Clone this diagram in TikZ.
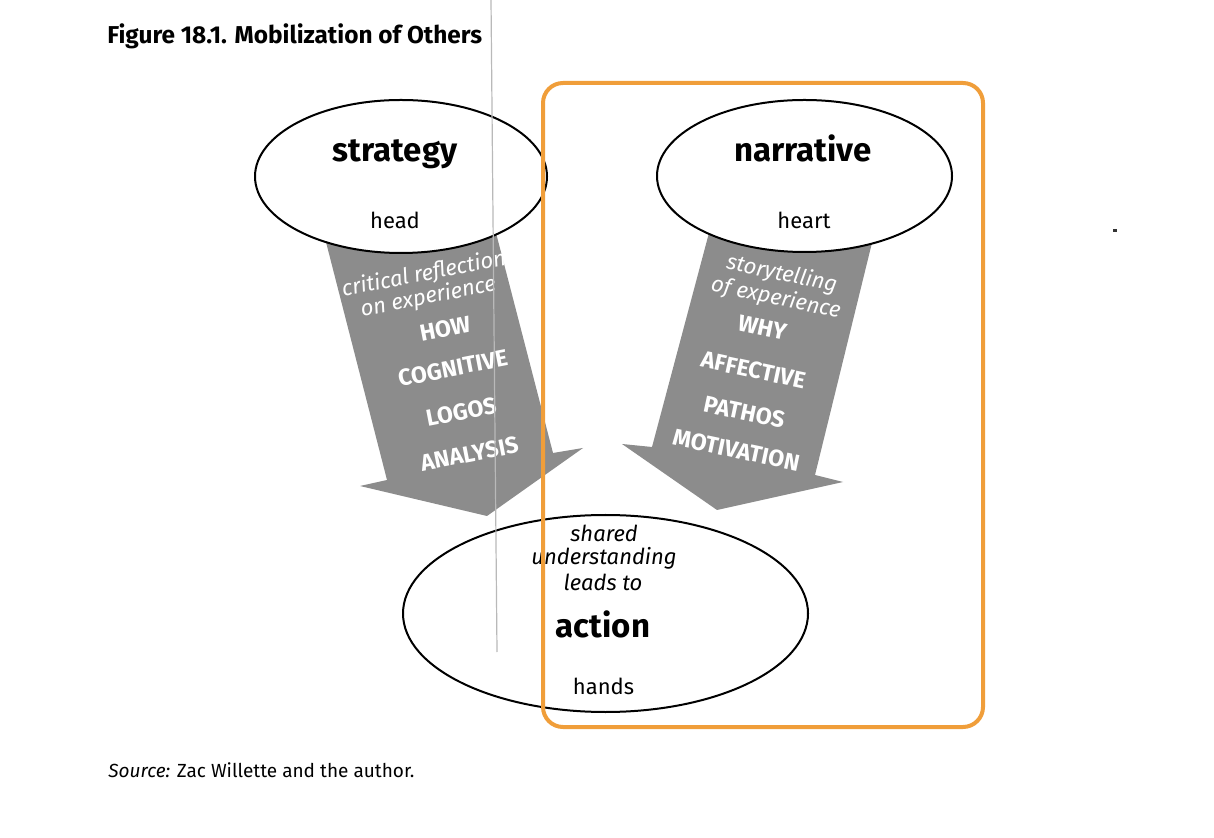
\documentclass[tikz,border=0pt]{standalone}
\usepackage{fontspec}
\setmainfont{Fira Sans}
\usetikzlibrary{shapes.geometric}
\definecolor{arrowgray}{RGB}{140,140,140}
\definecolor{hlorange}{RGB}{240,158,58}
\definecolor{scanline}{RGB}{185,185,185}
\newcommand\rowstrut[1]{\vrule height #1 depth 3pt width 0pt}
\newcommand\arrowit{\itshape\fontsize{11}{12}\selectfont}
\newcommand\arrowcap{\bfseries\fontsize{11.6}{13}\selectfont}
\begin{document}
\begin{tikzpicture}[x=0.5pt,y=-0.5pt,
  oval/.style={draw=black, line width=1pt, fill=white, ellipse, inner sep=0pt},
  bigword/.style={font=\bfseries\fontsize{16.5}{19}\selectfont, anchor=base},
  smallword/.style={font=\fontsize{11}{13}\selectfont, anchor=base},
  itblack/.style={font=\itshape\fontsize{11}{13}\selectfont, anchor=base},
  arrowtext/.style={text=white, inner sep=0pt, anchor=base},
  arrowfill/.style={fill=arrowgray},
]
\useasboundingbox (0,0) rectangle (1214,838);

% title and source
\node[font=\bfseries\fontsize{12.2}{14}\selectfont, anchor=base west, inner sep=0pt] (title) at (107,44) {Figure 18.1. Mobilization of Others};
\node[font=\fontsize{9.5}{11}\selectfont, anchor=base west, inner sep=0pt] (source) at (108,777) {\textit{Source:} Zac Willette and the author.};

% left arrow
\coordinate (LA1) at (317,207);
\coordinate (LA2) at (387,480);
\coordinate (LA3) at (360,486);
\coordinate (LA4) at (487,516);
\coordinate (LA5) at (583,448);
\coordinate (LA6) at (553,453);
\coordinate (LA7) at (488,202);
\fill[arrowfill] (LA1) -- (LA2) -- (LA3) -- (LA4) -- (LA5) -- (LA6) -- (LA7) -- cycle;
\begin{scope}
  \clip (LA1) -- (LA2) -- (LA3) -- (LA4) -- (LA5) -- (LA6) -- (LA7) -- cycle;
  \node[arrowtext, rotate=11] (leftlabel) at (425.1,280.7) {\vtop{\offinterlineskip\halign{\hfil#\hfil\cr
    \rowstrut{8pt}\arrowit critical reflection\cr
    \rowstrut{8pt}\arrowit on experience\cr
    \rowstrut{14.8pt}\hspace*{10.5pt}\arrowcap HOW\cr
    \rowstrut{17.2pt}\hspace*{10.5pt}\arrowcap COGNITIVE\cr
    \rowstrut{19.2pt}\hspace*{10.5pt}\arrowcap LOGOS\cr
    \rowstrut{18.5pt}\hspace*{10.5pt}\arrowcap ANALYSIS\cr}}};
\end{scope}

% right arrow
\coordinate (RA1) at (718,199);
\coordinate (RA2) at (652,447);
\coordinate (RA3) at (622,444);
\coordinate (RA4) at (717,510);
\coordinate (RA5) at (843,482);
\coordinate (RA6) at (815,475);
\coordinate (RA7) at (881,206);
\fill[arrowfill] (RA1) -- (RA2) -- (RA3) -- (RA4) -- (RA5) -- (RA6) -- (RA7) -- cycle;
\begin{scope}
  \clip (RA1) -- (RA2) -- (RA3) -- (RA4) -- (RA5) -- (RA6) -- (RA7) -- cycle;
  \node[arrowtext, rotate=-12] (rightlabel) at (772.7,278.8) {\vtop{\offinterlineskip\halign{\hfil#\hfil\cr
    \rowstrut{8pt}\hspace*{8pt}\arrowit storytelling\cr
    \rowstrut{9.45pt}\hspace*{7.2pt}\arrowit of experience\cr
    \rowstrut{13.4pt}\arrowcap WHY\cr
    \rowstrut{18.8pt}\arrowcap AFFECTIVE\cr
    \rowstrut{18.6pt}\arrowcap PATHOS\cr
    \rowstrut{16.35pt}\arrowcap MOTIVATION\cr}}};
\end{scope}

% ellipses
\node[oval, minimum width=146pt, minimum height=76.5pt] (strategy) at (401,176.5) {};
\node[bigword] (strategyT) at (395,162) {strategy};
\node[smallword] (head) at (395,229) {head};

\node[oval, minimum width=147.5pt, minimum height=76pt] (narrative) at (804.5,176) {};
\node[bigword] (narrativeT) at (803,162) {narrative};
\node[smallword] (heart) at (804,229) {heart};

\node[oval, minimum width=202.5pt, minimum height=98.5pt] (action) at (605.5,613.5) {};
\node[itblack] (shared) at (604,542) {shared};
\node[itblack] (underst) at (604,565) {understanding};
\node[itblack] (leads) at (603,590) {leads to};
\node[bigword] (actionT) at (603,637) {action};
\node[smallword] (hands) at (603.5,694) {hands};

% highlight frame
\draw[hlorange, line width=2pt, rounded corners=10pt] (543,83) rectangle (983,727);

% scan artefacts
\draw[scanline, line width=0.6pt] (491,0) -- (497,652);
\fill[black!80] (1113,229) rectangle (1117,232);
\end{tikzpicture}
\end{document}
